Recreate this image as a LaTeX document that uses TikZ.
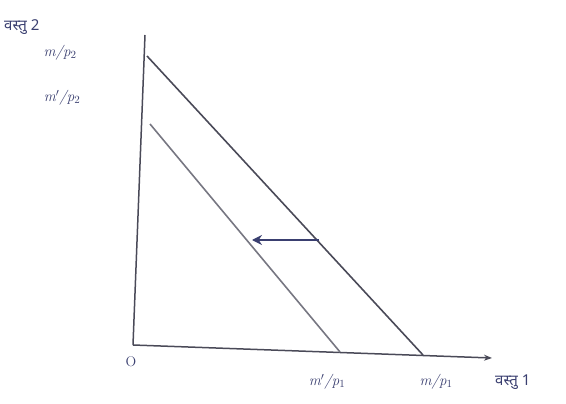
\documentclass[tikz,border=0pt]{standalone}
\usepackage{fontspec}
\newfontfamily\devfont[Script=Devanagari]{Noto Sans}
\usetikzlibrary{arrows.meta}
\definecolor{pencil}{HTML}{4A4A58}
\definecolor{ink}{HTML}{3A3F70}
\tikzset{
  axisline/.style={pencil, line width=1.5pt},
  budget/.style={pencil, line width=1.6pt},
  shiftarrow/.style={ink, line width=1.3pt, -{Stealth[length=10pt,width=10pt]}},
  lbl/.style={ink, font=\fontsize{15}{17}\selectfont\itshape, inner sep=1pt},
  devlbl/.style={ink, font=\devfont\fontsize{15}{17}\selectfont, inner sep=1pt}
}
\begin{document}
\begin{tikzpicture}[x=1pt,y=-1pt]
\useasboundingbox (0,0) rectangle (566,404);
% axes
\coordinate (ytop) at (145,35);
\coordinate (origin) at (133,345);
\coordinate (xend) at (492,358);
\draw[axisline] (ytop) -- (origin);
\draw[axisline, -{Stealth[length=8pt,width=6pt]}] (origin) -- (xend);
% budget lines
\coordinate (A) at (147,56);
\coordinate (B) at (423,355);
\coordinate (C) at (150,124);
\coordinate (D) at (340,352);
\draw[budget] (A) -- (B);
\draw[budget, pencil!75] (C) -- (D);
% shift arrow
\coordinate (arrS) at (319,240);
\coordinate (arrE) at (252,240);
\draw[shiftarrow] (arrS) -- (arrE);
% labels
\node[devlbl, anchor=west] (g2) at (3,27) {वस्तु 2};
\node[lbl] (mp2) at (60,53) {m/p$_2$};
\node[lbl] (mpp2) at (62,98) {m$'$/p$_2$};
\node[lbl, font=\fontsize{14}{16}\selectfont] (O) at (131,362) {O};
\node[lbl] (mpp1) at (327,382) {m$'$/p$_1$};
\node[lbl] (mp1) at (436,382) {m/p$_1$};
\node[devlbl, anchor=west] (g1) at (494,382) {वस्तु 1};
\end{tikzpicture}
\end{document}
